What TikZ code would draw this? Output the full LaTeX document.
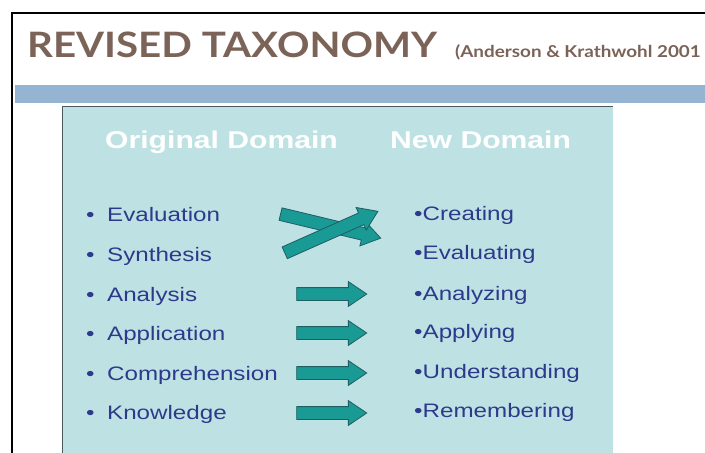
\documentclass[tikz,border=0pt]{standalone}
\usepackage{fontspec}
\setmainfont{Liberation Sans}
\newfontfamily\slidefont[FakeStretch=1.24]{Liberation Sans}
\newfontfamily\titlefont[FakeStretch=1.15]{Lato}
\usepackage{xcolor}
\usetikzlibrary{shapes.arrows}

\definecolor{titlebrown}{HTML}{7B6358}
\definecolor{barblue}{HTML}{94B4D2}
\definecolor{panelbg}{HTML}{BEE2E3}
\definecolor{panelline}{HTML}{4A5A60}
\definecolor{itemblue}{HTML}{2D3A8C}
\definecolor{arrowteal}{HTML}{1A9A95}
\definecolor{arrowedge}{HTML}{1F5E63}

\begin{document}
\begin{tikzpicture}[x=1pt, y=-1pt]
\tikzstyle{olditem}    = [anchor=base west, inner sep=0pt, text=itemblue, font=\slidefont\fontsize{19.5}{22}\selectfont]
\tikzstyle{header}     = [anchor=base west, inner sep=0pt, text=white, font=\slidefont\bfseries\fontsize{24.3}{28}\selectfont]
\tikzstyle{blockarrow} = [single arrow, draw=arrowedge, fill=arrowteal, line width=0.8pt, minimum height=70pt, inner xsep=0pt, inner ysep=6pt, single arrow head extend=6pt, single arrow tip angle=68]
\useasboundingbox (0,0) rectangle (705,453);
\fill[white] (0,0) rectangle (705,453);
\draw[line width=2pt] (12,453) |- (705,13);
\node[anchor=base west, inner sep=0pt, text=titlebrown, font=\titlefont\bfseries\fontsize{35}{40}\selectfont] (title) at (27,57) {REVISED TAXONOMY};
\node[anchor=base west, inner sep=0pt, text=titlebrown, font=\titlefont\bfseries\fontsize{16.4}{20}\selectfont] (source) at (455,57) {(Anderson \& Krathwohl 2001};
\fill[barblue] (15,85) rectangle (705,103);
\fill[panelbg] (62,106) rectangle (613,453);
\draw[panelline, line width=0.8pt] (62,453) |- (613,106);
\node[header] (orighead) at (105,148) {Original Domain};
\node[header] (newhead) at (390,148) {New Domain};
\node[olditem] (o1) at (86,221) {•\hspace{12.5pt}Evaluation};
\node[olditem] (o2) at (86,261) {•\hspace{12.5pt}Synthesis};
\node[olditem] (o3) at (86,301) {•\hspace{12.5pt}Analysis};
\node[olditem] (o4) at (86,340) {•\hspace{12.5pt}Application};
\node[olditem] (o5) at (86,380) {•\hspace{12.5pt}Comprehension};
\node[olditem] (o6) at (86,419) {•\hspace{12.5pt}Knowledge};
\node[olditem] (n1) at (414,220) {•Creating};
\node[olditem] (n2) at (414,259) {•Evaluating};
\node[olditem] (n3) at (414,300) {•Analyzing};
\node[olditem] (n4) at (414,338) {•Applying};
\node[olditem] (n5) at (414,378) {•Understanding};
\node[olditem] (n6) at (414,417) {•Remembering};
\node[blockarrow, minimum height=103pt, rotate=-13.5] (ar1) at (326,225) {};
\node[blockarrow, minimum height=102pt, rotate=24] (ar2) at (327,234) {};
\node[blockarrow] (ar3) at (327,294) {};
\node[blockarrow] (ar4) at (327,333) {};
\node[blockarrow] (ar5) at (327,373) {};
\node[blockarrow] (ar6) at (327,413) {};
\end{tikzpicture}
\end{document}
